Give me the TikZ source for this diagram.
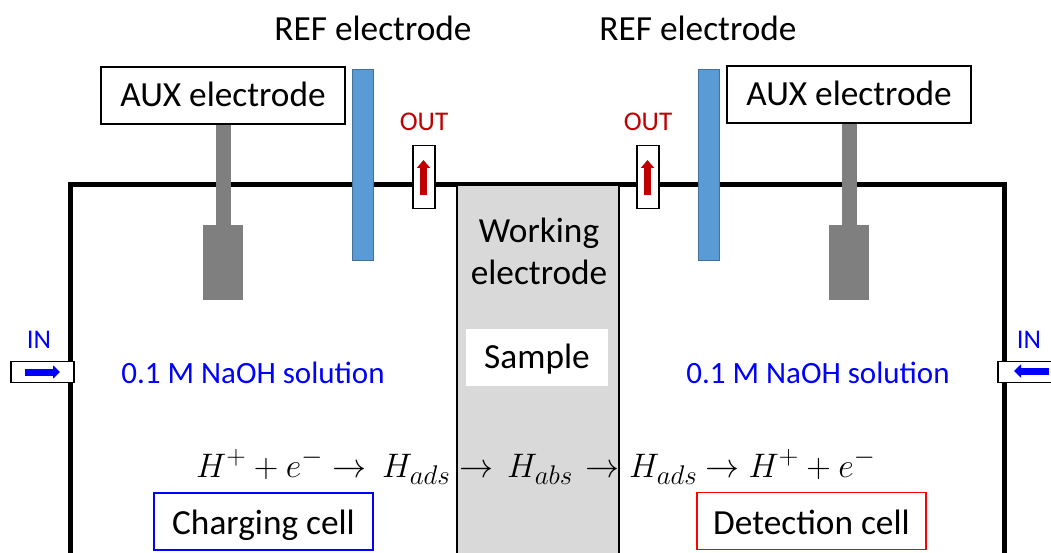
\RequirePackage{fix-cm}
\documentclass[tikz,border=0pt]{standalone}
\usepackage{fontspec}
\usepackage{amsmath}
\setmainfont{Carlito}
\DeclareMathSizes{34}{34}{27}{20}
\usetikzlibrary{arrows.meta,positioning}
\definecolor{refblue}{HTML}{5B9BD5}
\definecolor{refedge}{HTML}{41719C}
\definecolor{auxgray}{HTML}{7F7F7F}
\definecolor{wegray}{HTML}{D9D9D9}
\definecolor{outred}{HTML}{C00000}
\definecolor{inblue}{HTML}{0000FF}
\tikzset{
  labeltext/.style={font=\fontsize{35.3}{42}\selectfont,inner sep=0pt},
  basetext/.style={labeltext,anchor=base},
  smalltext/.style={font=\fontsize{27}{30}\selectfont,inner sep=0pt},
  soltext/.style={font=\fontsize{31}{34}\selectfont,inner sep=0pt,inblue},
  auxbox/.style={draw=black,line width=1.5pt,fill=white,minimum width=244pt,minimum height=57pt},
  refbar/.style={draw=refedge,line width=1pt,fill=refblue,minimum width=21pt,minimum height=190pt,inner sep=0pt},
  auxblock/.style={fill=auxgray,minimum width=40pt,minimum height=75pt,inner sep=0pt},
  tubeout/.style={draw=black,line width=1.5pt,fill=white,minimum width=22pt,minimum height=63pt,inner sep=0pt},
  tubein/.style={draw=black,line width=1.5pt,fill=white,minimum width=63pt,minimum height=21pt,inner sep=0pt},
  flowout/.style={-{Triangle[length=8pt,width=13pt]},line width=7pt,outred},
  flowin/.style={-{Triangle[length=7pt,width=13pt]},line width=7pt,inblue},
  cellbox/.style={line width=1.5pt,minimum height=57pt},
  eqtext/.style={font=\fontsize{34}{38}\selectfont,inner sep=0pt,anchor=base west},
}
\begin{document}
\begin{tikzpicture}[x=1pt,y=-1pt]
\clip (0,0) rectangle (1051,553);
\fill[white] (0,0) rectangle (1051,553);
% cell walls
\draw[line width=5pt,line join=miter] (70.5,560) -- (70.5,184.5) -- (1004,184.5) -- (1004,560);
% working electrode
\node[draw=black,line width=1.5pt,fill=wegray,minimum width=162pt,minimum height=380pt,inner sep=0pt] (we) at (538,375) {};
\node[basetext] (welabela) at (539,242.5) {Working};
\node[basetext] (welabelb) at (539,284) {electrode};
\node[fill=white,minimum width=142pt,minimum height=57pt,inner sep=0pt] (samplebox) at (537,357) {};
\node[basetext] (sample) at (537,368) {Sample};
% electrodes
\node[basetext] (refl) at (373,41) {REF electrode};
\node[basetext] (refr) at (698,41) {REF electrode};
\node[refbar] (barl) at (362.7,165) {};
\node[refbar] (barr) at (708.7,165) {};
\node[auxbox] (auxl) at (223,95.5) {};
\node[auxbox] (auxr) at (849,94.5) {};
\node[basetext] (auxtextl) at (223,107) {AUX electrode};
\node[basetext] (auxtextr) at (849,106) {AUX electrode};
\node[auxblock] (blockl) at (223,262.5) {};
\node[auxblock] (blockr) at (849,262.5) {};
\draw[line width=15pt,auxgray] (auxl.south) -- (blockl.north);
\draw[line width=15pt,auxgray] (auxr.south) -- (blockr.north);
% outlets
\node[tubeout] (outl) at (424.2,177) {};
\node[tubeout] (outr) at (647.8,177) {};
\node[smalltext,outred] (outlabell) at (424,122) {OUT};
\node[smalltext,outred] (outlabelr) at (648,122) {OUT};
\coordinate (outlfrom) at (423.5,195);
\coordinate (outlto) at (423.5,160);
\coordinate (outrfrom) at (647.5,195);
\coordinate (outrto) at (647.5,160);
\draw[flowout] (outlfrom) -- (outlto);
\draw[flowout] (outrfrom) -- (outrto);
% inlets
\node[tubein] (inl) at (42.5,372) {};
\node[tubein] (inr) at (1029.5,372) {};
\node[smalltext,inblue] (inlabell) at (39,340) {IN};
\node[smalltext,inblue] (inlabelr) at (1029,340) {IN};
\coordinate (inlfrom) at (25,372);
\coordinate (inlto) at (60,372);
\coordinate (inrfrom) at (1049,371);
\coordinate (inrto) at (1014,371);
\draw[flowin] (inlfrom) -- (inlto);
\draw[flowin] (inrfrom) -- (inrto);
% solution
\node[soltext] (soll) at (253,373) {0.1 M NaOH solution};
\node[soltext] (solr) at (818,373) {0.1 M NaOH solution};
% reactions
\node[eqtext] (eqa) at (196,477) {$H^+ + e^- \rightarrow$};
\node[eqtext] (eqb) at (382,477) {$H_{ads}$};
\node[eqtext] (eqc) at (459,477) {$\rightarrow$};
\node[eqtext] (eqd) at (507,477) {$H_{abs}$};
\node[eqtext] (eqe) at (585,477) {$\rightarrow$};
\node[eqtext] (eqf) at (629,477) {$H_{ads}$};
\node[eqtext] (eqg) at (705,477) {$\rightarrow H^+ + e^-$};
% cells
\node[cellbox,draw=inblue,minimum width=219pt] (chargingbox) at (263.5,521.5) {};
\node[basetext] (charging) at (263.5,534) {Charging cell};
\node[cellbox,draw=red,minimum width=229pt] (detectionbox) at (811.5,521) {};
\node[basetext] (detection) at (811.5,534) {Detection cell};
\end{tikzpicture}
\end{document}
